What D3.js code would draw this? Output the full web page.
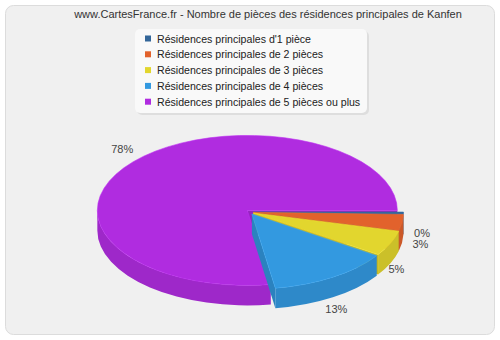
<!DOCTYPE html>
<html>
<head>
<meta charset="utf-8">
<script src="https://cdn.jsdelivr.net/npm/d3@7"></script>
<style>
  body { margin: 0; background: #fff; }
  text { font-family: "Liberation Sans", Arial, sans-serif; }
</style>
</head>
<body>
<script>
// chart data
const categories = [
  "Résidences principales d'1 pièce",
  "Résidences principales de 2 pièces",
  "Résidences principales de 3 pièces",
  "Résidences principales de 4 pièces",
  "Résidences principales de 5 pièces ou plus"
];
const values = [0.45, 3.45, 5.45, 13.15, 77.5];
const pctLabels = ["0%", "3%", "5%", "13%", "78%"];
const colors = ["#336699", "#e2622c", "#e2d62e", "#3399e0", "#b02ce0"];
const title = "www.CartesFrance.fr - Nombre de pièces des résidences principales de Kanfen";

const width = 500, height = 340;
const cx = 250, cy = 212, rx = 150, ry = 75, depth = 20, explode = 3.5;

const svg = d3.select("body").append("svg")
    .attr("width", width)
    .attr("height", height);

// frame
svg.append("rect")
    .attr("x", 5.5).attr("y", 5.5)
    .attr("width", 489).attr("height", 329)
    .attr("rx", 8)
    .attr("fill", "#f0f0f0")
    .attr("stroke", "#dcdcdc");

svg.append("text")
    .attr("x", 268).attr("y", 18)
    .attr("text-anchor", "middle")
    .attr("font-size", 11)
    .attr("fill", "#333")
    .text(title);

// legend
const legend = svg.append("g");
legend.append("rect")
    .attr("x", 137).attr("y", 31)
    .attr("width", 232).attr("height", 84)
    .attr("rx", 5).attr("fill", "#dedede");
legend.append("rect")
    .attr("x", 135).attr("y", 29)
    .attr("width", 232).attr("height", 84)
    .attr("rx", 5).attr("fill", "#f9f9f9");

const row = legend.selectAll("g.item")
    .data(categories)
    .enter().append("g")
    .attr("transform", (d, i) => `translate(145,${38.5 + i * 15.8})`);
row.append("rect")
    .attr("x", 0).attr("y", -3)
    .attr("width", 6).attr("height", 6)
    .attr("fill", (d, i) => colors[i]);
row.append("text")
    .attr("x", 12).attr("y", 4)
    .attr("font-size", 10.6)
    .attr("fill", "#222")
    .text(d => d);

// 3D pie
const arcs = d3.pie().sort(null).startAngle(0).endAngle(2 * Math.PI)(values);

function pt(a, ox, oy, dz) {
  return [cx + ox + rx * Math.cos(a), cy + oy + ry * Math.sin(a) + (dz || 0)];
}
function arcTo(a0, a1, ox, oy, dz, sweep) {
  const p = pt(a1, ox, oy, dz);
  const large = Math.abs(a1 - a0) > Math.PI ? 1 : 0;
  return `A${rx},${ry} 0 ${large} ${sweep} ${p[0]},${p[1]}`;
}

arcs.forEach((d, i) => {
  d.index = i;
  d.mid = (d.startAngle + d.endAngle) / 2;
  d.ox = explode * Math.cos(d.mid);
  d.oy = explode * Math.sin(d.mid) * 0.7;
});

const order = arcs.slice().sort((a, b) => Math.sin(a.mid) - Math.sin(b.mid));
const pie = svg.append("g");

order.forEach(d => {
  const base = d3.color(colors[d.index]);
  const c = [cx + d.ox, cy + d.oy];
  const a0 = d.startAngle, a1 = d.endAngle;

  // cut faces
  [[a0, Math.cos(a0) < 0], [a1, Math.cos(a1) > 0]].forEach(([a, show]) => {
    if (!show) return;
    const p = pt(a, d.ox, d.oy);
    pie.append("path")
        .attr("d", `M${c[0]},${c[1]}L${p[0]},${p[1]}L${p[0]},${p[1] + depth}L${c[0]},${c[1] + depth}Z`)
        .attr("fill", base.darker(0.45));
  });

  // outer wall (front half only)
  const s = Math.max(a0, 0), e = Math.min(a1, Math.PI);
  if (e > s) {
    const p0 = pt(s, d.ox, d.oy), p1 = pt(e, d.ox, d.oy);
    pie.append("path")
        .attr("d", `M${p0[0]},${p0[1]}` + arcTo(s, e, d.ox, d.oy, 0, 1) +
                   `L${p1[0]},${p1[1] + depth}` + arcTo(e, s, d.ox, d.oy, depth, 0) + "Z")
        .attr("fill", base.darker(0.3));
  }

  // top
  const q0 = pt(a0, d.ox, d.oy);
  pie.append("path")
      .attr("d", `M${c[0]},${c[1]}L${q0[0]},${q0[1]}` + arcTo(a0, a1, d.ox, d.oy, 0, 1) + "Z")
      .attr("fill", base)
      .attr("stroke", base.brighter(0.2))
      .attr("stroke-width", 0.6);
});

// percentage labels
function labelGap(m) {
  const s = Math.sin(m);
  if (s > 0.3) return 10;
  if (s >= 0) return 22;
  return 18;
}
svg.append("g").selectAll("text")
    .data(arcs)
    .enter().append("text")
    .attr("x", d => cx + (rx + labelGap(d.mid)) * Math.cos(d.mid))
    .attr("y", d => Math.sin(d.mid) > 0
        ? cy + (ry + 16) * Math.sin(d.mid) + depth + 4
        : cy + (ry + 22) * Math.sin(d.mid) + 4)
    .attr("text-anchor", "middle")
    .attr("font-size", 11)
    .attr("fill", "#444")
    .text((d, i) => pctLabels[i]);
</script>
</body>
</html>
